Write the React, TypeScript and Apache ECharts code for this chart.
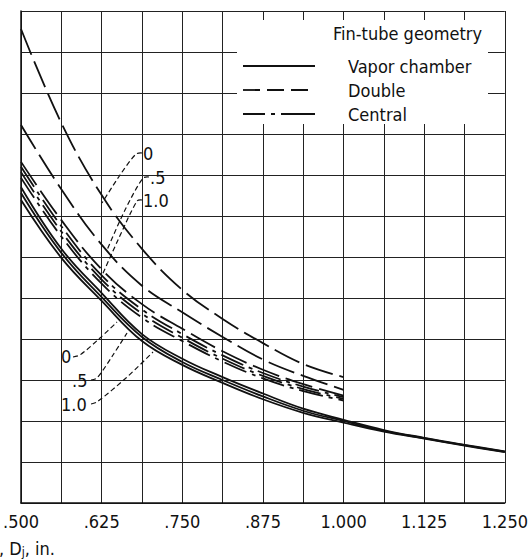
import React, { useEffect, useRef } from "react";
import * as echarts from "echarts";

// x positions (tube inside diameter, in.)
const xShort = [0.5, 0.5625, 0.625, 0.6875, 0.75, 0.8125, 0.875, 0.9375, 1.0];
const xLong = [0.5, 0.5625, 0.625, 0.6875, 0.75, 0.8125, 0.875, 0.9375, 1.0, 1.0625, 1.125, 1.1875, 1.25];
const tickLabels = [".500", ".625", ".750", ".875", "1.000", "1.125", "1.250"];

// Double (dashed)
const double0 = [11.56, 9.27, 7.51, 6.2, 5.2, 4.49, 3.9, 3.39, 3.07];
const double05 = [9.22, 7.65, 6.3, 5.3, 4.65, 4.05, 3.5, 3.1, 2.76];
const double10 = [8.32, 6.9, 5.7, 4.85, 4.25, 3.7, 3.25, 2.9, 2.62];
// Central (dash-dot)
const central0 = [8.2, 6.75, 5.55, 4.72, 4.12, 3.6, 3.17, 2.84, 2.58];
const central05 = [8.07, 6.62, 5.45, 4.62, 4.03, 3.52, 3.1, 2.78, 2.54];
const central10 = [7.93, 6.5, 5.35, 4.52, 3.95, 3.45, 3.04, 2.73, 2.5];
// Vapor chamber (solid)
const vapor0 = [7.7, 6.2, 5.12, 4.12, 3.52, 3.07, 2.67, 2.3, 2.03, 1.78, 1.59, 1.42, 1.26];
const vapor05 = [7.56, 6.1, 5.02, 4.05, 3.44, 3.0, 2.6, 2.25, 2.0, 1.76, 1.58, 1.41, 1.25];
const vapor10 = [7.39, 5.98, 4.93, 3.95, 3.37, 2.93, 2.53, 2.2, 1.96, 1.74, 1.57, 1.4, 1.24];

const FONT = "DejaVu Sans Condensed";

export default function App() {
  const ref = useRef<HTMLDivElement>(null);
  useEffect(() => {
    if (!ref.current) return;
    const chart = echarts.init(ref.current, undefined, { renderer: "svg" });
    const pairs = (xs: number[], ys: number[]) => ys.map((y, i) => [xs[i], y]);
    const mk = (name: string, xs: number[], ys: number[], type: any) => ({
      name,
      type: "line",
      data: pairs(xs, ys),
      symbol: "none",
      smooth: 0.4,
      lineStyle: { color: "#111", width: 1.8, type },
      z: 5,
    });
    const dashed = [28, 7];
    const dashDot = [24, 6, 4, 6];
    const leader = (pts: number[][]) => ({
      type: "polyline",
      shape: { points: pts, smooth: 0.3 },
      style: { stroke: "#111", lineWidth: 1.2, lineDash: [5, 3], fill: null },
      z: 50,
    });
    const label = (text: string, x: number, y: number) => ({
      type: "text",
      x,
      y,
      style: { text, fill: "#111", font: `18px '${FONT}'`, verticalAlign: "middle", textAlign: "left" },
      z: 50,
    });
    chart.setOption({
      animation: false,
      grid: { left: 14, right: 25, top: 11, bottom: 56 },
      xAxis: {
        type: "value",
        min: 0.5,
        max: 1.25,
        interval: 0.0625,
        axisLine: { show: true, lineStyle: { color: "#111", width: 1.5 } },
        axisTick: { show: false },
        splitLine: { show: true, lineStyle: { color: "#222", width: 1 } },
        axisLabel: {
          margin: 9,
          color: "#111",
          fontFamily: FONT,
          fontSize: 18,
          showMinLabel: true,
          showMaxLabel: true,
          formatter: (v: number) => {
            const k = (v - 0.5) / 0.125;
            const r = Math.round(k);
            return Math.abs(k - r) < 1e-6 ? tickLabels[r] : "";
          },
        },
      },
      yAxis: {
        type: "value",
        min: 0,
        max: 12,
        interval: 1,
        axisLine: { show: true, lineStyle: { color: "#111", width: 1.5 } },
        axisTick: { show: false },
        axisLabel: { show: false },
        splitLine: { show: true, lineStyle: { color: "#222", width: 1 } },
      },
      series: [
        mk("Double 0", xShort, double0, dashed),
        mk("Double .5", xShort, double05, dashed),
        mk("Double 1.0", xShort, double10, dashed),
        mk("Central 0", xShort, central0, dashDot),
        mk("Central .5", xShort, central05, dashDot),
        mk("Central 1.0", xShort, central10, dashDot),
        mk("Vapor chamber 0", xLong, vapor0, "solid"),
        mk("Vapor chamber .5", xLong, vapor05, "solid"),
        mk("Vapor chamber 1.0", xLong, vapor10, "solid"),
      ],
      graphic: [
        { type: "rect", shape: { x: 237, y: 20, width: 251, height: 104 }, style: { fill: "#fff" }, z: 40 },
        { type: "text", x: 333, y: 33, style: { text: "Fin-tube geometry", fill: "#111", font: `18px '${FONT}'`, verticalAlign: "middle" }, z: 50 },
        { type: "line", shape: { x1: 243, y1: 66, x2: 315, y2: 66 }, style: { stroke: "#111", lineWidth: 1.8 }, z: 50 },
        { type: "line", shape: { x1: 243, y1: 90, x2: 315, y2: 90 }, style: { stroke: "#111", lineWidth: 1.8, lineDash: [17, 7] }, z: 50 },
        { type: "line", shape: { x1: 243, y1: 114, x2: 315, y2: 114 }, style: { stroke: "#111", lineWidth: 1.8, lineDash: [22, 6, 4, 6, 40, 0] }, z: 50 },
        label("Vapor chamber", 348, 66),
        label("Double", 348, 90),
        label("Central", 348, 114),
        // upper labels (Double)
        label("0", 143, 153),
        label(".5", 150, 177),
        label("1.0", 143, 200),
        leader([[142, 153], [136, 154], [120, 175], [102, 203]]),
        leader([[149, 177], [143, 178], [125, 210], [107, 250]]),
        leader([[142, 200], [137, 201], [118, 240], [100, 280]]),
        // lower labels (Vapor chamber)
        label("0", 61, 356),
        label(".5", 72, 380),
        label("1.0", 61, 404),
        leader([[73, 357], [80, 355], [100, 338], [117, 322]]),
        leader([[91, 380], [97, 378], [113, 355], [127, 333]]),
        leader([[91, 404], [97, 402], [126, 378], [153, 352]]),
        {
          type: "text",
          x: -1,
          y: 548,
          style: {
            text: ", D{s|j}, in.",
            fill: "#111",
            font: `18px '${FONT}'`,
            verticalAlign: "middle",
            rich: { s: { fontSize: 12, fontFamily: FONT, padding: [8, 0, 0, 0], fill: "#111" } },
          },
          z: 50,
        },
      ],
    });
    return () => chart.dispose();
  }, []);
  return <div ref={ref} style={{ position: "fixed", left: 0, top: 0, width: 531, height: 559, background: "#fff" }} />;
}
